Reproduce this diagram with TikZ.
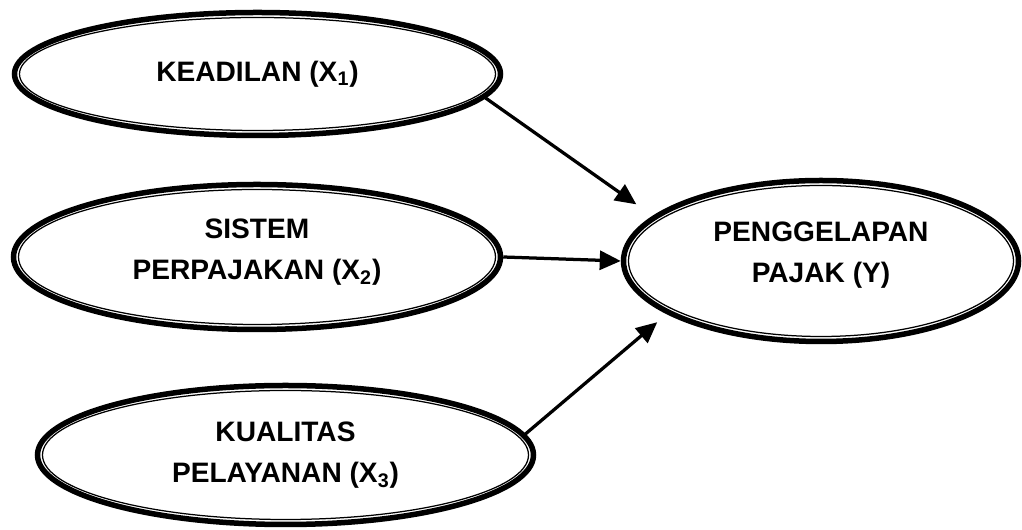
\documentclass[tikz,border=0pt]{standalone}
\usepackage{fontspec}
\setmainfont{Liberation Sans}
\usepackage{tikz}
\usetikzlibrary{shapes.geometric, arrows.meta, positioning, calc}

\tikzset{
    latent/.style={ellipse, draw, line width=0.11cm, inner sep=0pt, align=center,
        font=\fontsize{16}{23.5}\selectfont\bfseries,
        path picture={\draw[line width=0.025cm]
            let \p1=(path picture bounding box.north east), \p2=(path picture bounding box.center)
            in (\p2) ellipse ({\x1-\x2-0.1cm} and {\y1-\y2-0.1cm});}},
    arrowline/.style={line width=0.065cm, -{Triangle[length=0.42cm, width=0.38cm]}}
}

\begin{document}
\begin{tikzpicture}
    \useasboundingbox (0,0) rectangle (20.44,10.6);

    \node[latent, minimum width=9.72cm, minimum height=2.46cm] (x1) at (5.15,9.12) {KEADILAN (X\textsubscript{1})};
    \node[latent, minimum width=9.74cm, minimum height=2.90cm, text height=1.04cm, text depth=0.12cm] (x2) at (5.14,5.46) {SISTEM\\PERPAJAKAN (X\textsubscript{2})};
    \node[latent, minimum width=9.92cm, minimum height=2.78cm] (x3) at (5.71,1.50) {KUALITAS\\PELAYANAN (X\textsubscript{3})};
    \node[latent, minimum width=7.90cm, minimum height=3.22cm, text height=1.0cm, text depth=0.12cm] (y) at (16.42,5.38) {PENGGELAPAN\\PAJAK (Y)};

    \path
        (x1.-6.5) edge[arrowline, shorten >=0.4cm] (y.165.5)
        (x2.east) edge[arrowline] (y.west)
        (x3.5.4) edge[arrowline, shorten >=0.25cm] (y.199)
        ;
\end{tikzpicture}
\end{document}
